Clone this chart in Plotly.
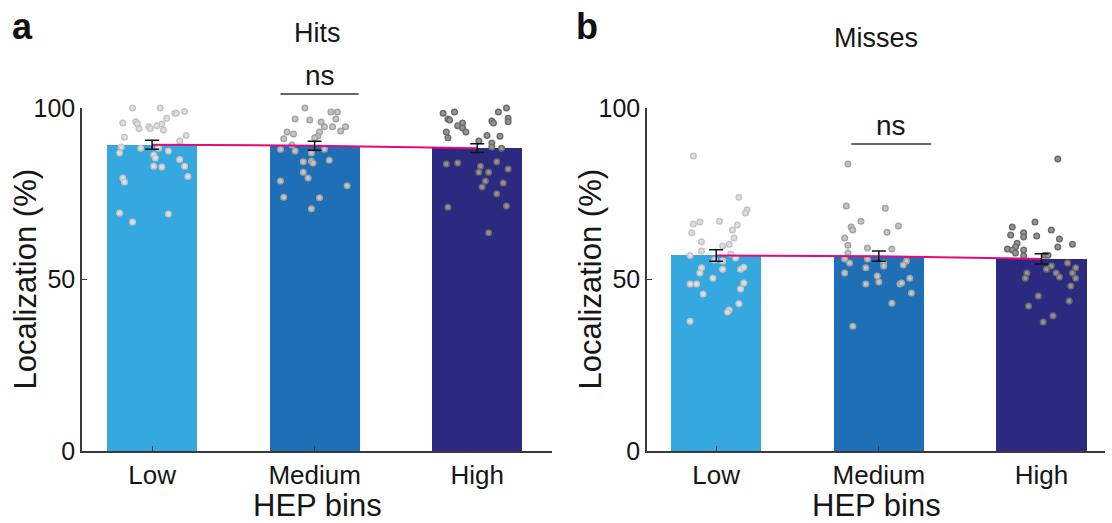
import plotly.graph_objects as go

# ---------------- data ----------------
categories = ["Low", "Medium", "High"]
cat_pos = [1, 2, 3]

hits_means = [89.3, 89.0, 88.3]
hits_sem = [1.3, 1.3, 1.3]
misses_means = [57.0, 56.8, 56.0]
misses_sem = [1.7, 1.5, 1.5]

# individual participants (value, horizontal jitter in category units)
hits_low_vals = [100, 100, 98.5, 98.5, 99, 97, 95.6, 96, 95.3, 94.5, 94, 94, 94.8, 95.3, 93.6,
                 91.5, 92, 90.4, 88.6, 86.9, 88.3, 88.3, 87.5, 86.3, 85.4, 85, 83, 82.8, 83, 80,
                 79.6, 78.4, 69.4, 66.8, 69.1]
hits_low_jit = [-0.12, 0.05, 0.14, 0.15, 0.20, 0.09, -0.18, -0.10, -0.09, -0.02, -0.01, -0.08, 0.03, 0.06, 0.07,
                -0.17, 0.21, 0.17, -0.19, -0.20, -0.07, 0.04, 0.10, 0.01, 0.02, 0.17, 0.01, 0.06, 0.20, 0.22,
                -0.18, -0.17, -0.20, -0.12, 0.10]

hits_med_vals = [100, 98.8, 98.8, 96.8, 96.5, 95.9, 94.5, 96.8, 94.5, 94.5, 93.3, 93, 92.4, 91, 93,
                 91.8, 91.3, 89.2, 88, 87.5, 86.9, 88, 84.8, 84.3, 84.5, 84, 81.3, 79.6, 78.7, 77.3,
                 74, 73.8, 70.6]
hits_med_jit = [-0.06, 0.10, 0.14, -0.12, -0.03, 0.04, 0.06, 0.13, 0.11, 0.19, 0.16, -0.17, -0.13, -0.19, 0.03,
                0.02, 0.00, -0.14, -0.21, -0.12, -0.02, 0.06, 0.09, -0.07, -0.02, -0.01, -0.07, -0.04, -0.21, 0.20,
                -0.19, 0.03, -0.02]

hits_high_vals = [100, 98.8, 97, 96, 98.5, 98.8, 96.8, 96.5, 96.2, 95.6, 94.8, 95.6, 94.2, 93, 93,
                  91.3, 92, 91.8, 90.4, 89.8, 88.6, 88.3, 83.7, 84, 83, 81.3, 81.3, 84.3, 82.2, 78.7,
                  77, 78.1, 75, 71.1, 71.4, 63.6]
hits_high_jit = [0.18, 0.13, 0.19, 0.19, -0.21, -0.14, -0.18, -0.17, 0.09, 0.10, -0.12, -0.09, -0.09, -0.07, -0.19,
                 -0.18, 0.06, 0.14, 0.01, 0.09, 0.09, 0.15, -0.19, -0.12, 0.02, 0.01, 0.07, 0.12, 0.19, 0.05,
                 0.03, 0.16, 0.12, -0.18, 0.18, 0.07]

miss_low_vals = [86, 74, 70.3, 69.4, 66.8, 66.2, 67, 65.9, 64.4, 62.1, 63.6, 61, 60.3, 59.8, 58.3,
                 57.4, 55.7, 55.4, 56.3, 53.4, 51.9, 53, 53, 53.6, 50.4, 48.7, 48.7, 49, 47.2, 45.8,
                 41.1, 40.5, 42.9, 37.8, 57]
miss_low_jit = [-0.14, 0.14, 0.19, 0.18, -0.10, -0.14, 0.02, 0.13, 0.10, 0.11, -0.15, -0.09, 0.08, 0.04, -0.09,
                0.09, -0.01, 0.04, 0.12, -0.09, -0.10, 0.04, 0.15, 0.17, -0.02, -0.16, -0.12, 0.17, 0.15, -0.08,
                0.08, 0.07, 0.14, -0.16, -0.16]

miss_med_vals = [83.7, 71.4, 70.8, 67, 65.3, 64.4, 63.8, 65.6, 62.1, 60, 59.2, 58.9, 57.7, 56, 54.8,
                 56, 54.8, 53.9, 55.4, 54.2, 53.4, 51.9, 51, 49.3, 50.4, 48.7, 48.7, 49, 46.1, 43.1,
                 36.4]
miss_med_jit = [-0.19, -0.20, 0.04, -0.11, -0.17, -0.16, 0.05, 0.12, -0.21, -0.19, -0.07, 0.08, -0.19, -0.21, -0.18,
                -0.07, 0.03, 0.03, 0.17, 0.15, -0.08, -0.21, -0.01, 0.00, 0.19, -0.08, 0.13, 0.14, 0.20, 0.08,
                -0.16]

miss_high_vals = [85.1, 66.8, 65.3, 64.4, 63.6, 62.4, 63, 62.7, 61.8, 60.3, 59.5, 60.6, 59.5, 58.9, 58.6,
                  57.7, 58.6, 56.9, 57.1, 57.1, 54.8, 53.9, 53.4, 53, 51.9, 50.7, 51.9, 50.4, 51.9, 50.4,
                  48.1, 45.2, 43.7, 42.3, 39.4, 37.6]
miss_high_jit = [0.10, -0.04, -0.18, 0.06, -0.11, -0.11, -0.19, -0.03, 0.11, 0.19, 0.10, -0.15, -0.16, -0.21, -0.18,
                 -0.16, -0.11, -0.11, 0.02, 0.04, 0.16, 0.06, 0.21, 0.03, 0.09, 0.11, -0.09, -0.10, 0.19, 0.21,
                 0.18, -0.02, 0.17, -0.08, 0.07, 0.01]

yticks = [0, 50, 100]
sig_hits_x = [1.79, 2.27]
sig_hits_y = 104.1
sig_miss_x = [1.83, 2.32]
sig_miss_y = 89.5

# ---------------- style ----------------
FONT = "Arial, Liberation Sans, sans-serif"
bar_colors = ["#35A8DF", "#1E6FB6", "#2B2A80"]
pt_edge = ["#c4c4c4", "#a3a3a3", "#6c6c6c"]
pt_fill = ["#e0e0e0", "#c6c6c6", "#959595"]
MAGENTA = "#E4097F"
AX = "#3a3a3a"
TXT = "#161616"

W, H = 1112, 523
xr_left = [0.569, 3.46]
xr_right = [0.575, 3.39]
dom_left = [82 / W, 552 / W]
dom_right = [647 / W, 1105 / W]
ydom = [1 - 451 / H, 1 - 108 / H]

fig = go.Figure()

panels = [
    ("x", "y", hits_means, hits_sem,
     [(hits_low_vals, hits_low_jit), (hits_med_vals, hits_med_jit), (hits_high_vals, hits_high_jit)]),
    ("x2", "y2", misses_means, misses_sem,
     [(miss_low_vals, miss_low_jit), (miss_med_vals, miss_med_jit), (miss_high_vals, miss_high_jit)]),
]

for xa, ya, means, sems, pts in panels:
    fig.add_trace(go.Bar(x=cat_pos, y=means, width=0.554, marker=dict(color=bar_colors, line=dict(width=0)),
                         xaxis=xa, yaxis=ya, showlegend=False))
    for i, (vals, jit) in enumerate(pts):
        fig.add_trace(go.Scatter(
            x=[cat_pos[i] + j for j in jit], y=vals, mode="markers",
            marker=dict(symbol="circle", size=5.5, color=pt_fill[i], line=dict(color=pt_edge[i], width=1.5)),
            cliponaxis=False, xaxis=xa, yaxis=ya, showlegend=False))
    fig.add_trace(go.Scatter(x=cat_pos, y=means, mode="lines", line=dict(color=MAGENTA, width=2),
                             xaxis=xa, yaxis=ya, showlegend=False))
    fig.add_trace(go.Scatter(x=cat_pos, y=means, mode="markers", marker=dict(size=1, opacity=0),
                             error_y=dict(type="data", array=sems, color="#111111", thickness=1.5, width=7),
                             xaxis=xa, yaxis=ya, showlegend=False))

axis_common = dict(showline=True, linecolor=AX, linewidth=1.5, ticks="inside", ticklen=5,
                   tickcolor=AX, tickwidth=1.2, showgrid=False, zeroline=False, automargin=False,
                   mirror=False)

fig.update_layout(
    template="none",
    width=W, height=H, margin=dict(l=0, r=0, t=0, b=0, pad=0),
    paper_bgcolor="white", plot_bgcolor="white",
    xaxis=dict(domain=dom_left, range=xr_left, tickvals=cat_pos, ticktext=categories, anchor="y",
               tickfont=dict(family=FONT, size=26, color=TXT), **axis_common),
    yaxis=dict(domain=ydom, range=[0, 100], tickvals=yticks, anchor="x",
               tickfont=dict(family=FONT, size=25, color=TXT), **axis_common),
    xaxis2=dict(domain=dom_right, range=xr_right, tickvals=cat_pos, ticktext=categories, anchor="y2",
                tickfont=dict(family=FONT, size=26, color=TXT), **axis_common),
    yaxis2=dict(domain=ydom, range=[0, 100], tickvals=yticks, anchor="x2",
                tickfont=dict(family=FONT, size=25, color=TXT), **axis_common),
    bargap=0,
)

# significance bars
def frac(v, r):
    return (v - r[0]) / (r[1] - r[0])

for xa, xr, sx, sy in [("x", xr_left, sig_hits_x, sig_hits_y), ("x2", xr_right, sig_miss_x, sig_miss_y)]:
    ya = "y" if xa == "x" else "y2"
    fig.add_shape(type="line", xref=f"{xa} domain", yref=f"{ya} domain",
                  x0=frac(sx[0], xr), x1=frac(sx[1], xr), y0=sy / 100, y1=sy / 100,
                  line=dict(color="#333", width=1.5))
    fig.add_annotation(xref=f"{xa} domain", yref=f"{ya} domain", x=frac((sx[0] + sx[1]) / 2, xr), y=sy / 100,
                       text="ns", showarrow=False, yanchor="bottom", yshift=1,
                       font=dict(family=FONT, size=28, color=TXT))

# axis titles (as annotations for exact placement)
ymid = (ydom[0] + ydom[1]) / 2
for xd, yx in [("x domain", 25 / W), ("x2 domain", 590 / W)]:
    fig.add_annotation(xref=xd, yref="paper", x=0.5, y=1 - 505 / H, text="HEP bins", showarrow=False,
                       xanchor="center", yanchor="middle", font=dict(family=FONT, size=31, color=TXT))
    fig.add_annotation(xref="paper", yref="paper", x=yx, y=ymid, text="Localization (%)", showarrow=False,
                       textangle=-90, xanchor="center", yanchor="middle",
                       font=dict(family=FONT, size=31, color=TXT))

# titles and panel letters
fig.add_annotation(xref="x domain", yref="paper", x=0.5, y=1 - 33 / H, text="Hits", showarrow=False,
                   font=dict(family=FONT, size=27, color=TXT), xanchor="center", yanchor="middle")
fig.add_annotation(xref="x2 domain", yref="paper", x=0.5, y=1 - 38 / H, text="Misses", showarrow=False,
                   font=dict(family=FONT, size=27, color=TXT), xanchor="center", yanchor="middle")
fig.add_annotation(xref="paper", yref="paper", x=22 / W, y=1 - 27 / H, text="<b>a</b>", showarrow=False,
                   font=dict(family=FONT, size=36, color="#111"), xanchor="center", yanchor="middle")
fig.add_annotation(xref="paper", yref="paper", x=587 / W, y=1 - 27 / H, text="<b>b</b>", showarrow=False,
                   font=dict(family=FONT, size=36, color="#111"), xanchor="center", yanchor="middle")

fig.write_html("out.html")
